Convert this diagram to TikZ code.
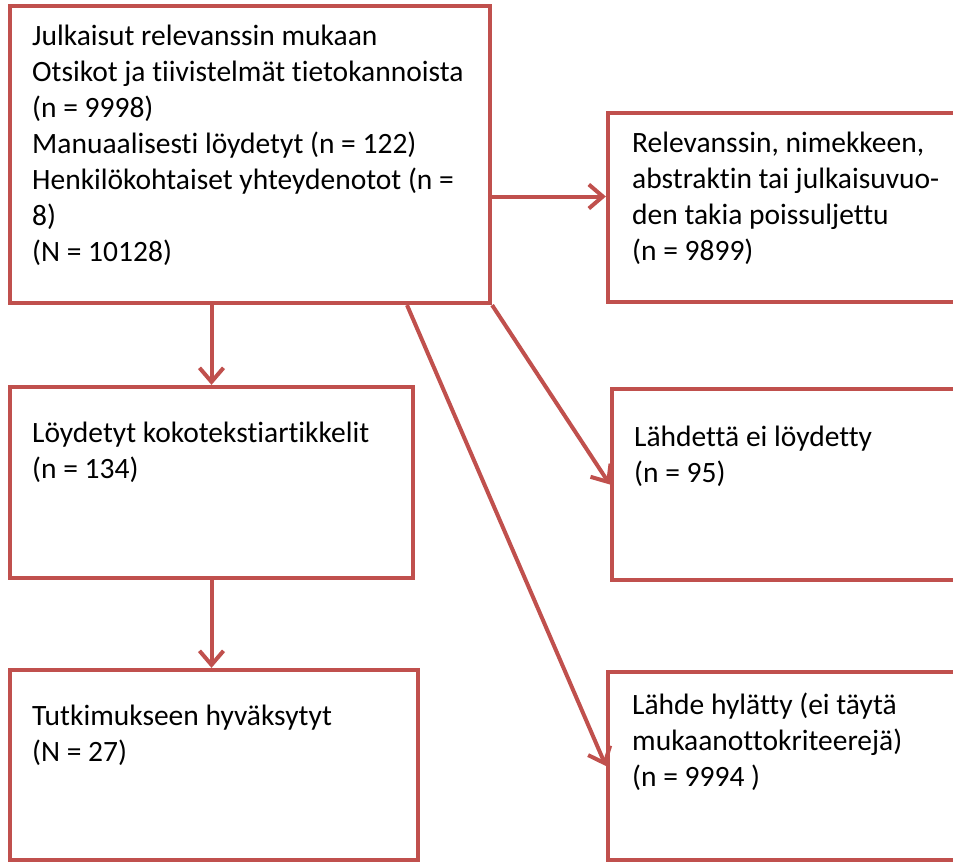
\documentclass[tikz,border=0pt]{standalone}
\usepackage{fontspec}
\setmainfont[Ligatures={NoCommon}]{Carlito}
\usetikzlibrary{arrows.meta}
\definecolor{boxred}{HTML}{C0504D}

\tikzset{
  box/.style={rectangle, draw=boxred, line width=4.2pt, fill=white, inner sep=0pt},
  txt/.style={anchor=north west, align=left, inner sep=0pt, font=\fontsize{29.5}{36}\selectfont},
  arr/.style={draw=boxred, line width=4pt, -{Straight Barb[length=14pt,width=24pt]}},
}

\begin{document}
\begin{tikzpicture}[x=1pt, y=-1pt]
    \useasboundingbox (0,0) rectangle (953,863);
    \clip (0,0) rectangle (953,863);

    \node (A)  [box, minimum width=480pt, minimum height=297pt] at (250,154.5) {};
    \node (R1) [box, minimum width=362pt, minimum height=189pt] at (789,207.5) {};
    \node (L2) [box, minimum width=403pt, minimum height=191pt] at (211.5,482.5) {};
    \node (R2) [box, minimum width=358pt, minimum height=191pt] at (791,484.5) {};
    \node (L3) [box, minimum width=408pt, minimum height=190pt] at (214,765) {};
    \node (R3) [box, minimum width=362pt, minimum height=188pt] at (789,766) {};

    \node (A-txt)  [txt] at (32,25) {Julkaisut relevanssin mukaan\\Otsikot ja tiivistelmät tietokannoista\\(n = 9998)\\Manuaalisesti löydetyt (n = 122)\\Henkilökohtaiset yhteydenotot (n =\\8)\\(N = 10128)};
    \node (R1-txt) [txt] at (632,132) {Relevanssin, nimekkeen,\\abstraktin tai julkaisuvuo-\\den takia poissuljettu\\(n = 9899)};
    \node (L2-txt) [txt] at (32,422) {Löydetyt kokotekstiartikkelit\\(n = 134)};
    \node (R2-txt) [txt] at (634,426) {Lähdettä ei löydetty\\(n = 95)};
    \node (L3-txt) [txt] at (32,705) {Tutkimukseen hyväksytyt\\(N = 27)};
    \node (R3-txt) [txt] at (632,693) {Lähde hylätty (ei täytä\\mukaanottokriteerejä)\\(n = 9994 )};

    \coordinate (r1in) at ([yshift=11pt]R1.west);
    \coordinate (r3out) at ([xshift=157pt]A.south);

    \draw[arr] (A.south -| L2.north) -- (L2.north);
    \draw[arr] (r1in -| A.east) -- (r1in);
    \draw[arr] (A.south east) -- (R2.west);
    \draw[arr] (r3out) -- (R3.west);
    \draw[arr] (L2.south) -- (L2.south |- L3.north);
\end{tikzpicture}
\end{document}
